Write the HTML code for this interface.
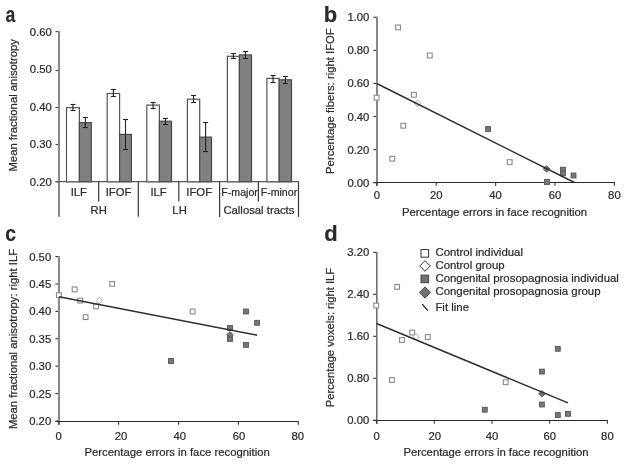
<!DOCTYPE html>
<html><head><meta charset="utf-8"><style>
html,body{margin:0;padding:0;background:#fff;}
svg{display:block;will-change:transform;}
text{font-family:"Liberation Sans",sans-serif;fill:#2b2b2b;stroke:#2b2b2b;stroke-width:0.22px;}
</style></head><body>
<svg width="626" height="465" viewBox="0 0 626 465">
<rect width="626" height="465" fill="#fff"/>
<text transform="translate(5.40,21.50) scale(0.8,1)" x="0" y="0" font-size="22" font-weight="bold" fill="#111" style="stroke:#111;stroke-width:0.12px">a</text>
<text transform="translate(323.80,21.70) scale(1.0,1)" x="0" y="0" font-size="22" font-weight="bold" fill="#111" style="stroke:#111;stroke-width:0.15px">b</text>
<text transform="translate(5.30,241.00) scale(0.88,1)" x="0" y="0" font-size="22" font-weight="bold" fill="#111" style="stroke:#111;stroke-width:0.12px">c</text>
<text transform="translate(324.20,240.50) scale(1.0,1)" x="0" y="0" font-size="22" font-weight="bold" fill="#111" style="stroke:#111;stroke-width:0.15px">d</text>
<line x1="55.50" y1="31.60" x2="59.00" y2="31.60" stroke="#444" stroke-width="1.1"/>
<text x="51.80" y="35.70" text-anchor="end" font-size="11.3" >0.60</text>
<line x1="55.50" y1="70.50" x2="59.00" y2="70.50" stroke="#444" stroke-width="1.1"/>
<text x="51.80" y="73.20" text-anchor="end" font-size="11.3" >0.50</text>
<line x1="55.50" y1="107.50" x2="59.00" y2="107.50" stroke="#444" stroke-width="1.1"/>
<text x="51.80" y="110.70" text-anchor="end" font-size="11.3" >0.40</text>
<line x1="55.50" y1="144.50" x2="59.00" y2="144.50" stroke="#444" stroke-width="1.1"/>
<text x="51.80" y="148.30" text-anchor="end" font-size="11.3" >0.30</text>
<line x1="55.50" y1="181.80" x2="59.00" y2="181.80" stroke="#444" stroke-width="1.1"/>
<text x="51.80" y="185.80" text-anchor="end" font-size="11.3" >0.20</text>
<line x1="59.00" y1="31.00" x2="59.00" y2="216.80" stroke="#888" stroke-width="2"/>
<line x1="55.50" y1="181.70" x2="299.00" y2="181.70" stroke="#5a5a5a" stroke-width="1.3"/>
<rect x="66.50" y="107.70" width="12.90" height="74.10" fill="#fff" stroke="#555" stroke-width="1.2"/>
<rect x="79.40" y="122.60" width="11.90" height="59.20" fill="#808082" stroke="#4a4a4a" stroke-width="1.2"/>
<line x1="72.95" y1="104.50" x2="72.95" y2="110.50" stroke="#222" stroke-width="1.1"/>
<line x1="70.45" y1="104.50" x2="75.45" y2="104.50" stroke="#222" stroke-width="1.1"/>
<line x1="70.45" y1="110.50" x2="75.45" y2="110.50" stroke="#222" stroke-width="1.1"/>
<line x1="85.35" y1="117.50" x2="85.35" y2="127.50" stroke="#222" stroke-width="1.1"/>
<line x1="82.85" y1="117.50" x2="87.85" y2="117.50" stroke="#222" stroke-width="1.1"/>
<line x1="82.85" y1="127.50" x2="87.85" y2="127.50" stroke="#222" stroke-width="1.1"/>
<rect x="107.20" y="93.50" width="12.40" height="88.30" fill="#fff" stroke="#555" stroke-width="1.2"/>
<rect x="119.60" y="134.40" width="11.80" height="47.40" fill="#808082" stroke="#4a4a4a" stroke-width="1.2"/>
<line x1="113.40" y1="89.50" x2="113.40" y2="96.50" stroke="#222" stroke-width="1.1"/>
<line x1="110.90" y1="89.50" x2="115.90" y2="89.50" stroke="#222" stroke-width="1.1"/>
<line x1="110.90" y1="96.50" x2="115.90" y2="96.50" stroke="#222" stroke-width="1.1"/>
<line x1="125.50" y1="119.50" x2="125.50" y2="149.50" stroke="#222" stroke-width="1.1"/>
<line x1="123.00" y1="119.50" x2="128.00" y2="119.50" stroke="#222" stroke-width="1.1"/>
<line x1="123.00" y1="149.50" x2="128.00" y2="149.50" stroke="#222" stroke-width="1.1"/>
<rect x="146.80" y="105.10" width="12.60" height="76.70" fill="#fff" stroke="#555" stroke-width="1.2"/>
<rect x="159.40" y="121.20" width="12.10" height="60.60" fill="#808082" stroke="#4a4a4a" stroke-width="1.2"/>
<line x1="153.10" y1="102.50" x2="153.10" y2="108.50" stroke="#222" stroke-width="1.1"/>
<line x1="150.60" y1="102.50" x2="155.60" y2="102.50" stroke="#222" stroke-width="1.1"/>
<line x1="150.60" y1="108.50" x2="155.60" y2="108.50" stroke="#222" stroke-width="1.1"/>
<line x1="165.45" y1="118.50" x2="165.45" y2="124.50" stroke="#222" stroke-width="1.1"/>
<line x1="162.95" y1="118.50" x2="167.95" y2="118.50" stroke="#222" stroke-width="1.1"/>
<line x1="162.95" y1="124.50" x2="167.95" y2="124.50" stroke="#222" stroke-width="1.1"/>
<rect x="187.40" y="99.20" width="12.30" height="82.60" fill="#fff" stroke="#555" stroke-width="1.2"/>
<rect x="199.70" y="137.10" width="11.80" height="44.70" fill="#808082" stroke="#4a4a4a" stroke-width="1.2"/>
<line x1="193.55" y1="95.50" x2="193.55" y2="102.50" stroke="#222" stroke-width="1.1"/>
<line x1="191.05" y1="95.50" x2="196.05" y2="95.50" stroke="#222" stroke-width="1.1"/>
<line x1="191.05" y1="102.50" x2="196.05" y2="102.50" stroke="#222" stroke-width="1.1"/>
<line x1="205.60" y1="122.50" x2="205.60" y2="151.50" stroke="#222" stroke-width="1.1"/>
<line x1="203.10" y1="122.50" x2="208.10" y2="122.50" stroke="#222" stroke-width="1.1"/>
<line x1="203.10" y1="151.50" x2="208.10" y2="151.50" stroke="#222" stroke-width="1.1"/>
<rect x="227.40" y="56.30" width="12.00" height="125.50" fill="#fff" stroke="#555" stroke-width="1.2"/>
<rect x="239.40" y="54.90" width="12.10" height="126.90" fill="#808082" stroke="#4a4a4a" stroke-width="1.2"/>
<line x1="233.40" y1="53.50" x2="233.40" y2="58.50" stroke="#222" stroke-width="1.1"/>
<line x1="230.90" y1="53.50" x2="235.90" y2="53.50" stroke="#222" stroke-width="1.1"/>
<line x1="230.90" y1="58.50" x2="235.90" y2="58.50" stroke="#222" stroke-width="1.1"/>
<line x1="245.45" y1="51.50" x2="245.45" y2="58.50" stroke="#222" stroke-width="1.1"/>
<line x1="242.95" y1="51.50" x2="247.95" y2="51.50" stroke="#222" stroke-width="1.1"/>
<line x1="242.95" y1="58.50" x2="247.95" y2="58.50" stroke="#222" stroke-width="1.1"/>
<rect x="266.90" y="78.40" width="12.30" height="103.40" fill="#fff" stroke="#555" stroke-width="1.2"/>
<rect x="279.20" y="79.80" width="12.30" height="102.00" fill="#808082" stroke="#4a4a4a" stroke-width="1.2"/>
<line x1="273.05" y1="75.50" x2="273.05" y2="82.50" stroke="#222" stroke-width="1.1"/>
<line x1="270.55" y1="75.50" x2="275.55" y2="75.50" stroke="#222" stroke-width="1.1"/>
<line x1="270.55" y1="82.50" x2="275.55" y2="82.50" stroke="#222" stroke-width="1.1"/>
<line x1="285.35" y1="76.50" x2="285.35" y2="83.50" stroke="#222" stroke-width="1.1"/>
<line x1="282.85" y1="76.50" x2="287.85" y2="76.50" stroke="#222" stroke-width="1.1"/>
<line x1="282.85" y1="83.50" x2="287.85" y2="83.50" stroke="#222" stroke-width="1.1"/>
<line x1="98.70" y1="181.80" x2="98.70" y2="201.60" stroke="#3a3a3a" stroke-width="1.2"/>
<line x1="138.30" y1="181.80" x2="138.30" y2="216.80" stroke="#3a3a3a" stroke-width="1.2"/>
<line x1="178.80" y1="181.80" x2="178.80" y2="201.60" stroke="#3a3a3a" stroke-width="1.2"/>
<line x1="219.60" y1="181.80" x2="219.60" y2="216.90" stroke="#3a3a3a" stroke-width="1.2"/>
<line x1="258.40" y1="181.80" x2="258.40" y2="201.60" stroke="#3a3a3a" stroke-width="1.2"/>
<line x1="298.50" y1="181.80" x2="298.50" y2="217.00" stroke="#3a3a3a" stroke-width="1.2"/>
<text x="78.80" y="195.60" text-anchor="middle" font-size="11.3" >ILF</text>
<text x="118.50" y="195.60" text-anchor="middle" font-size="11.3" >IFOF</text>
<text x="158.55" y="195.60" text-anchor="middle" font-size="11.3" >ILF</text>
<text x="199.20" y="195.60" text-anchor="middle" font-size="11.3" >IFOF</text>
<text x="239.60" y="195.60" text-anchor="middle" font-size="10.6" >F-major</text>
<text x="278.95" y="195.60" text-anchor="middle" font-size="10.6" >F-minor</text>
<text x="98.70" y="213.60" text-anchor="middle" font-size="11.3" >RH</text>
<text x="179.60" y="213.70" text-anchor="middle" font-size="11.3" >LH</text>
<text x="258.90" y="213.60" text-anchor="middle" font-size="11.3" >Callosal tracts</text>
<text transform="translate(17.20,105.30) rotate(-90)" text-anchor="middle" font-size="11.3">Mean fractional anisotropy</text>
<line x1="373.40" y1="17.30" x2="377.00" y2="17.30" stroke="#333" stroke-width="1.1"/>
<text x="369.40" y="21.30" text-anchor="end" font-size="11.3" >1.00</text>
<line x1="373.40" y1="50.38" x2="377.00" y2="50.38" stroke="#333" stroke-width="1.1"/>
<text x="369.40" y="54.38" text-anchor="end" font-size="11.3" >0.80</text>
<line x1="373.40" y1="83.46" x2="377.00" y2="83.46" stroke="#333" stroke-width="1.1"/>
<text x="369.40" y="87.46" text-anchor="end" font-size="11.3" >0.60</text>
<line x1="373.40" y1="116.54" x2="377.00" y2="116.54" stroke="#333" stroke-width="1.1"/>
<text x="369.40" y="120.54" text-anchor="end" font-size="11.3" >0.40</text>
<line x1="373.40" y1="149.62" x2="377.00" y2="149.62" stroke="#333" stroke-width="1.1"/>
<text x="369.40" y="153.62" text-anchor="end" font-size="11.3" >0.20</text>
<line x1="373.40" y1="182.70" x2="377.00" y2="182.70" stroke="#333" stroke-width="1.1"/>
<text x="369.40" y="186.70" text-anchor="end" font-size="11.3" >0.00</text>
<line x1="377.00" y1="16.80" x2="377.00" y2="185.80" stroke="#888" stroke-width="2"/>
<line x1="373.40" y1="182.50" x2="614.90" y2="182.50" stroke="#2a2a2a" stroke-width="1.1"/>
<line x1="376.80" y1="182.50" x2="376.80" y2="185.80" stroke="#333" stroke-width="1.1"/>
<text x="376.80" y="199.20" text-anchor="middle" font-size="11.3" >0</text>
<line x1="436.20" y1="182.50" x2="436.20" y2="185.80" stroke="#333" stroke-width="1.1"/>
<text x="436.20" y="199.20" text-anchor="middle" font-size="11.3" >20</text>
<line x1="495.60" y1="182.50" x2="495.60" y2="185.80" stroke="#333" stroke-width="1.1"/>
<text x="495.60" y="199.20" text-anchor="middle" font-size="11.3" >40</text>
<line x1="555.00" y1="182.50" x2="555.00" y2="185.80" stroke="#333" stroke-width="1.1"/>
<text x="555.00" y="199.20" text-anchor="middle" font-size="11.3" >60</text>
<line x1="614.40" y1="182.50" x2="614.40" y2="185.80" stroke="#333" stroke-width="1.1"/>
<text x="614.40" y="199.20" text-anchor="middle" font-size="11.3" >80</text>
<text x="494.50" y="216.10" text-anchor="middle" font-size="11.3" >Percentage errors in face recognition</text>
<text transform="translate(333.70,101.10) rotate(-90)" text-anchor="middle" font-size="11.3">Percentage fibers: right IFOF</text>
<rect x="395.60" y="25.00" width="4.8" height="4.8" fill="#fff" stroke="#8a8a8a" stroke-width="1.1"/>
<rect x="427.40" y="53.10" width="4.8" height="4.8" fill="#fff" stroke="#8a8a8a" stroke-width="1.1"/>
<rect x="374.20" y="95.30" width="4.8" height="4.8" fill="#fff" stroke="#8a8a8a" stroke-width="1.1"/>
<rect x="411.50" y="92.40" width="4.8" height="4.8" fill="#fff" stroke="#8a8a8a" stroke-width="1.1"/>
<rect x="400.90" y="123.30" width="4.8" height="4.8" fill="#fff" stroke="#8a8a8a" stroke-width="1.1"/>
<rect x="389.90" y="156.30" width="4.8" height="4.8" fill="#fff" stroke="#8a8a8a" stroke-width="1.1"/>
<rect x="507.30" y="159.70" width="4.8" height="4.8" fill="#fff" stroke="#8a8a8a" stroke-width="1.1"/>
<path d="M417.50 100.10L420.70 103.30L417.50 106.50L414.30 103.30Z" fill="#fff" stroke="#a8a8a8" stroke-width="1"/>
<rect x="485.65" y="126.55" width="4.9" height="4.9" fill="#777" stroke="#555" stroke-width="0.9"/>
<rect x="544.55" y="179.55" width="4.9" height="4.9" fill="#777" stroke="#555" stroke-width="0.9"/>
<rect x="560.55" y="167.25" width="4.9" height="4.9" fill="#777" stroke="#555" stroke-width="0.9"/>
<rect x="560.55" y="170.85" width="4.9" height="4.9" fill="#777" stroke="#555" stroke-width="0.9"/>
<rect x="571.05" y="173.05" width="4.9" height="4.9" fill="#777" stroke="#555" stroke-width="0.9"/>
<path d="M546.60 165.70L549.90 169.00L546.60 172.30L543.30 169.00Z" fill="#737373" stroke="#555" stroke-width="0.9"/>
<line x1="376.70" y1="83.50" x2="574.40" y2="182.50" stroke="#2e2e2e" stroke-width="1.5"/>
<line x1="55.40" y1="256.60" x2="59.00" y2="256.60" stroke="#333" stroke-width="1.1"/>
<text x="51.20" y="260.60" text-anchor="end" font-size="11.3" >0.50</text>
<line x1="55.40" y1="284.00" x2="59.00" y2="284.00" stroke="#333" stroke-width="1.1"/>
<text x="51.20" y="288.00" text-anchor="end" font-size="11.3" >0.45</text>
<line x1="55.40" y1="311.40" x2="59.00" y2="311.40" stroke="#333" stroke-width="1.1"/>
<text x="51.20" y="315.40" text-anchor="end" font-size="11.3" >0.40</text>
<line x1="55.40" y1="338.80" x2="59.00" y2="338.80" stroke="#333" stroke-width="1.1"/>
<text x="51.20" y="342.80" text-anchor="end" font-size="11.3" >0.35</text>
<line x1="55.40" y1="366.20" x2="59.00" y2="366.20" stroke="#333" stroke-width="1.1"/>
<text x="51.20" y="370.20" text-anchor="end" font-size="11.3" >0.30</text>
<line x1="55.40" y1="393.60" x2="59.00" y2="393.60" stroke="#333" stroke-width="1.1"/>
<text x="51.20" y="397.60" text-anchor="end" font-size="11.3" >0.25</text>
<line x1="55.40" y1="421.00" x2="59.00" y2="421.00" stroke="#333" stroke-width="1.1"/>
<text x="51.20" y="425.00" text-anchor="end" font-size="11.3" >0.20</text>
<line x1="59.00" y1="256.10" x2="59.00" y2="424.80" stroke="#888" stroke-width="2"/>
<line x1="55.40" y1="421.50" x2="298.50" y2="421.50" stroke="#2a2a2a" stroke-width="1.1"/>
<line x1="58.80" y1="421.50" x2="58.80" y2="424.80" stroke="#333" stroke-width="1.1"/>
<text x="58.60" y="439.60" text-anchor="middle" font-size="11.3" >0</text>
<line x1="118.60" y1="421.50" x2="118.60" y2="424.80" stroke="#333" stroke-width="1.1"/>
<text x="121.00" y="439.60" text-anchor="middle" font-size="11.3" >20</text>
<line x1="178.60" y1="421.50" x2="178.60" y2="424.80" stroke="#333" stroke-width="1.1"/>
<text x="179.70" y="439.60" text-anchor="middle" font-size="11.3" >40</text>
<line x1="238.40" y1="421.50" x2="238.40" y2="424.80" stroke="#333" stroke-width="1.1"/>
<text x="239.00" y="439.60" text-anchor="middle" font-size="11.3" >60</text>
<line x1="298.30" y1="421.50" x2="298.30" y2="424.80" stroke="#333" stroke-width="1.1"/>
<text x="297.80" y="439.60" text-anchor="middle" font-size="11.3" >80</text>
<text x="177.10" y="456.20" text-anchor="middle" font-size="11.3" >Percentage errors in face recognition</text>
<text transform="translate(17.10,339.00) rotate(-90)" text-anchor="middle" font-size="11.3">Mean fractional anisotropy: right ILF</text>
<rect x="56.50" y="292.80" width="4.8" height="4.8" fill="#fff" stroke="#8a8a8a" stroke-width="1.1"/>
<rect x="72.20" y="287.00" width="4.8" height="4.8" fill="#fff" stroke="#8a8a8a" stroke-width="1.1"/>
<rect x="77.80" y="298.20" width="4.8" height="4.8" fill="#fff" stroke="#8a8a8a" stroke-width="1.1"/>
<rect x="83.20" y="314.70" width="4.8" height="4.8" fill="#fff" stroke="#8a8a8a" stroke-width="1.1"/>
<rect x="93.60" y="304.00" width="4.8" height="4.8" fill="#fff" stroke="#8a8a8a" stroke-width="1.1"/>
<rect x="109.80" y="281.50" width="4.8" height="4.8" fill="#fff" stroke="#8a8a8a" stroke-width="1.1"/>
<rect x="190.20" y="309.10" width="4.8" height="4.8" fill="#fff" stroke="#8a8a8a" stroke-width="1.1"/>
<path d="M99.30 297.40L102.50 300.60L99.30 303.80L96.10 300.60Z" fill="#fff" stroke="#a8a8a8" stroke-width="1"/>
<rect x="168.55" y="358.55" width="4.9" height="4.9" fill="#777" stroke="#555" stroke-width="0.9"/>
<rect x="227.55" y="325.45" width="4.9" height="4.9" fill="#777" stroke="#555" stroke-width="0.9"/>
<rect x="227.55" y="336.55" width="4.9" height="4.9" fill="#777" stroke="#555" stroke-width="0.9"/>
<rect x="243.55" y="309.05" width="4.9" height="4.9" fill="#777" stroke="#555" stroke-width="0.9"/>
<rect x="243.55" y="342.45" width="4.9" height="4.9" fill="#777" stroke="#555" stroke-width="0.9"/>
<rect x="254.65" y="320.35" width="4.9" height="4.9" fill="#777" stroke="#555" stroke-width="0.9"/>
<path d="M230.00 331.60L233.30 334.90L230.00 338.20L226.70 334.90Z" fill="#737373" stroke="#555" stroke-width="0.9"/>
<line x1="59.00" y1="296.70" x2="257.10" y2="335.20" stroke="#2e2e2e" stroke-width="1.5"/>
<line x1="373.20" y1="252.40" x2="376.80" y2="252.40" stroke="#333" stroke-width="1.1"/>
<text x="369.30" y="256.40" text-anchor="end" font-size="11.3" >3.20</text>
<line x1="373.20" y1="294.35" x2="376.80" y2="294.35" stroke="#333" stroke-width="1.1"/>
<text x="369.30" y="298.35" text-anchor="end" font-size="11.3" >2.40</text>
<line x1="373.20" y1="336.30" x2="376.80" y2="336.30" stroke="#333" stroke-width="1.1"/>
<text x="369.30" y="340.30" text-anchor="end" font-size="11.3" >1.60</text>
<line x1="373.20" y1="378.25" x2="376.80" y2="378.25" stroke="#333" stroke-width="1.1"/>
<text x="369.30" y="382.25" text-anchor="end" font-size="11.3" >0.80</text>
<line x1="373.20" y1="420.20" x2="376.80" y2="420.20" stroke="#333" stroke-width="1.1"/>
<text x="369.30" y="424.20" text-anchor="end" font-size="11.3" >0.00</text>
<line x1="376.80" y1="251.90" x2="376.80" y2="423.80" stroke="#686868" stroke-width="1.5"/>
<line x1="373.20" y1="420.50" x2="607.90" y2="420.50" stroke="#2a2a2a" stroke-width="1.1"/>
<line x1="376.60" y1="420.50" x2="376.60" y2="423.80" stroke="#333" stroke-width="1.1"/>
<text x="376.60" y="440.00" text-anchor="middle" font-size="11.3" >0</text>
<line x1="434.30" y1="420.50" x2="434.30" y2="423.80" stroke="#333" stroke-width="1.1"/>
<text x="434.80" y="440.00" text-anchor="middle" font-size="11.3" >20</text>
<line x1="492.00" y1="420.50" x2="492.00" y2="423.80" stroke="#333" stroke-width="1.1"/>
<text x="492.00" y="440.00" text-anchor="middle" font-size="11.3" >40</text>
<line x1="549.70" y1="420.50" x2="549.70" y2="423.80" stroke="#333" stroke-width="1.1"/>
<text x="549.70" y="440.00" text-anchor="middle" font-size="11.3" >60</text>
<line x1="607.40" y1="420.50" x2="607.40" y2="423.80" stroke="#333" stroke-width="1.1"/>
<text x="607.40" y="440.00" text-anchor="middle" font-size="11.3" >80</text>
<text x="496.00" y="456.20" text-anchor="middle" font-size="11.3" >Percentage errors in face recognition</text>
<text transform="translate(333.70,337.50) rotate(-90)" text-anchor="middle" font-size="11.2">Percentage voxels: right ILF</text>
<rect x="373.80" y="303.10" width="4.8" height="4.8" fill="#fff" stroke="#8a8a8a" stroke-width="1.1"/>
<rect x="394.70" y="284.40" width="4.8" height="4.8" fill="#fff" stroke="#8a8a8a" stroke-width="1.1"/>
<rect x="409.80" y="330.20" width="4.8" height="4.8" fill="#fff" stroke="#8a8a8a" stroke-width="1.1"/>
<rect x="399.60" y="337.60" width="4.8" height="4.8" fill="#fff" stroke="#8a8a8a" stroke-width="1.1"/>
<rect x="425.40" y="334.60" width="4.8" height="4.8" fill="#fff" stroke="#8a8a8a" stroke-width="1.1"/>
<rect x="389.50" y="377.60" width="4.8" height="4.8" fill="#fff" stroke="#8a8a8a" stroke-width="1.1"/>
<rect x="503.30" y="379.80" width="4.8" height="4.8" fill="#fff" stroke="#8a8a8a" stroke-width="1.1"/>
<path d="M416.20 333.60L419.40 336.80L416.20 340.00L413.00 336.80Z" fill="#fff" stroke="#a8a8a8" stroke-width="1"/>
<rect x="555.35" y="346.35" width="4.9" height="4.9" fill="#777" stroke="#555" stroke-width="0.9"/>
<rect x="539.45" y="369.15" width="4.9" height="4.9" fill="#777" stroke="#555" stroke-width="0.9"/>
<rect x="539.45" y="402.05" width="4.9" height="4.9" fill="#777" stroke="#555" stroke-width="0.9"/>
<rect x="482.35" y="407.25" width="4.9" height="4.9" fill="#777" stroke="#555" stroke-width="0.9"/>
<rect x="555.35" y="412.65" width="4.9" height="4.9" fill="#777" stroke="#555" stroke-width="0.9"/>
<rect x="565.55" y="411.35" width="4.9" height="4.9" fill="#777" stroke="#555" stroke-width="0.9"/>
<path d="M541.90 390.50L545.20 393.80L541.90 397.10L538.60 393.80Z" fill="#737373" stroke="#555" stroke-width="0.9"/>
<line x1="376.60" y1="323.50" x2="568.00" y2="402.90" stroke="#2e2e2e" stroke-width="1.5"/>
<rect x="421.0" y="249.6" width="7.6" height="7.6" fill="#fff" stroke="#333" stroke-width="1"/>
<path d="M425 260.7L430.3 266L425 271.3L419.7 266Z" fill="#fff" stroke="#333" stroke-width="1"/>
<rect x="421.0" y="275.1" width="7.6" height="7.6" fill="#737373" stroke="#444" stroke-width="1"/>
<path d="M425 286.9L430.6 292.5L425 298.1L419.4 292.5Z" fill="#737373" stroke="#444" stroke-width="1"/>
<line x1="422.30" y1="304.20" x2="427.80" y2="310.60" stroke="#222" stroke-width="1.3"/>
<text x="435.40" y="256.30" text-anchor="start" font-size="11.43" >Control individual</text>
<text x="435.40" y="269.10" text-anchor="start" font-size="11.43" >Control group</text>
<text x="435.40" y="282.30" text-anchor="start" font-size="11.43" >Congenital prosopagnosia individual</text>
<text x="435.40" y="295.40" text-anchor="start" font-size="11.43" >Congenital prosopagnosia group</text>
<text x="435.40" y="310.70" text-anchor="start" font-size="11.43" >Fit line</text>
</svg>
</body></html>
